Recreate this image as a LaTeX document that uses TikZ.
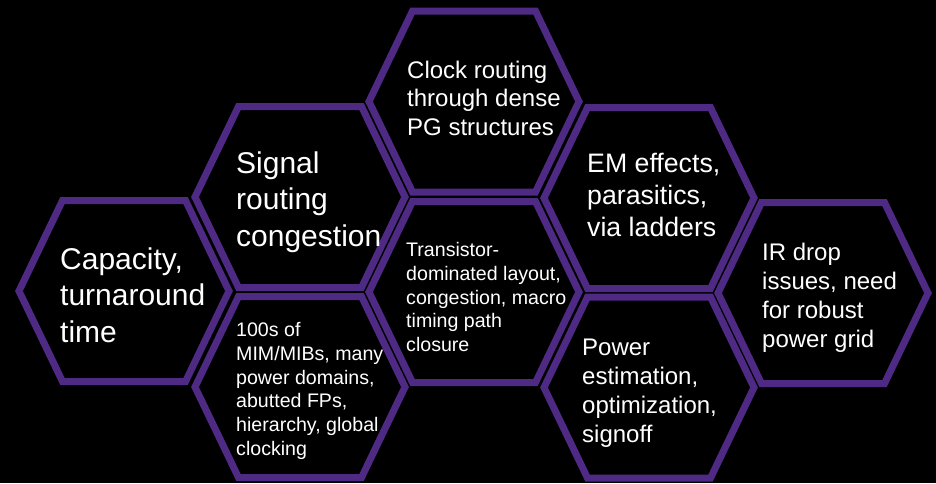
\documentclass[tikz,border=0pt]{standalone}
\usepackage{fontspec}
\setmainfont{Liberation Sans}
\definecolor{hexpurple}{HTML}{4E2A84}
\begin{document}
\begin{tikzpicture}[x=1pt,y=-1pt,
  hex/.style={draw=hexpurple, line width=7pt, line join=miter},
  txt/.style={text=white, anchor=north west, inner sep=0pt, align=left},
  fbig/.style={font=\fontsize{30}{36.6}\selectfont},
  fmid/.style={font=\fontsize{26.7}{32}\selectfont},
  fnorm/.style={font=\fontsize{24}{28.75}\selectfont},
  fsmall/.style={font=\fontsize{19.6}{23.65}\selectfont}]
  % background
  \fill[black] (0,0) rectangle (936,483);
  \useasboundingbox (0,0) rectangle (936,483);
  % honeycomb cells (centre points, then outline)
  \foreach \n/\cx/\cy in {cap/124/291, sig/300/197, hun/300/387,
                          clk/474/101.5, tra/474/292, em/649/198,
                          pow/649/387.5, ir/823/293}{
    \coordinate (c-\n) at (\cx,\cy);
    \draw[hex] (c-\n) ++(-105,0) -- ++(43.5,-90.5) -- ++(123,0)
      -- ++(43.5,90.5) -- ++(-43.5,90.5) -- ++(-123,0) -- cycle;
  }
  % cell labels
  \node[txt,fbig]   (cap) at (60,243.4)  {\strut Capacity,\\turnaround\\time};
  \node[txt,fbig]   (sig) at (236,147.4) {\strut Signal\\routing\\congestion};
  \node[txt,fnorm]  (clk) at (407,57.9)  {\strut Clock routing\\through dense\\PG structures};
  \node[txt,fmid]   (em)  at (587,150.3) {\strut EM effects,\\parasitics,\\via ladders};
  \node[txt,fnorm]  (ir)  at (762,240.5) {\strut IR drop\\issues, need\\for robust\\power grid};
  \node[txt,fnorm]  (pow) at (582,335.6) {\strut Power\\estimation,\\optimization,\\signoff};
  \node[txt,fsmall] (hun) at (236,320.1) {\strut 100s of\\MIM/MIBs, many\\power domains,\\abutted FPs,\\hierarchy, global\\clocking};
  \node[txt,fsmall] (tra) at (406,240.2) {\strut Transistor-\\dominated layout,\\congestion, macro\\timing path\\closure};
\end{tikzpicture}
\end{document}
